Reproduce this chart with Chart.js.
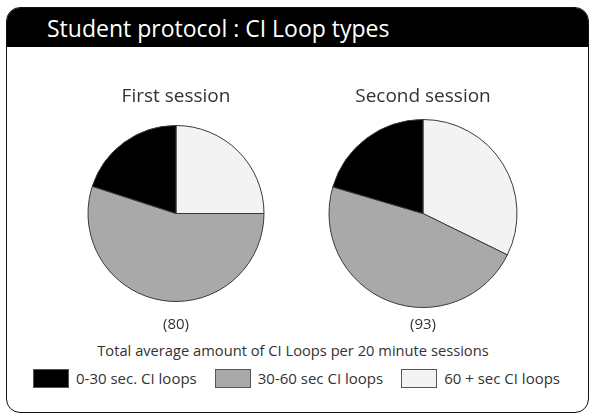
<!DOCTYPE html>
<html>
<head>
<meta charset="utf-8">
<script src="https://cdn.jsdelivr.net/npm/chart.js@4.4.1/dist/chart.umd.min.js"></script>
<style>
  html, body { margin: 0; padding: 0; background: #fff; }
  body { width: 590px; height: 416px; position: relative; overflow: hidden; font-family: "Open Sans", sans-serif; color: #333; }
  #frame { position: absolute; left: 6px; top: 7px; width: 581px; height: 404px; border: 1.5px solid #111; border-radius: 14px; overflow: hidden; }
  #header { position: absolute; left: 0; top: 0; right: 0; height: 39px; background: #000; color: #fff; font-size: 23px; line-height: 41px; padding-left: 40px; }
  .pie { position: absolute; }
  #caption { position: absolute; left: 0; width: 586px; top: 340px; text-align: center; font-size: 14.7px; }
  #legend { position: absolute; left: 33px; top: 368px; display: flex; align-items: center; font-size: 15px; }
  .item { display: flex; align-items: center; margin-right: 18px; }
  .box { width: 34px; height: 17px; border: 1px solid #555; margin-right: 7px; }
</style>
</head>
<body>
<div id="frame"><div id="header">Student protocol : CI Loop types</div></div>
<canvas id="first" class="pie" width="220" height="249" style="left:66px;top:85px"></canvas>
<canvas id="second" class="pie" width="220" height="249" style="left:313px;top:85px"></canvas>
<div id="caption">Total average amount of CI Loops per 20 minute sessions</div>
<div id="legend"></div>
<script>
// legend order
const categories = ["0-30 sec. CI loops", "30-60 sec CI loops", "60 + sec CI loops"];
const colors = ["#000000", "#a9a9a9", "#f3f3f3"];

const sessions = ["First session", "Second session"];
const totals = ["(80)", "(93)"];
// loops per category, same order as categories
const firstValues = [16, 44, 20];
const secondValues = [19, 44, 30];

// slices run clockwise from 12 o'clock: 60+, 30-60, then 0-30
const drawOrder = [2, 1, 0];

function makePie(canvas, title, total, values, radius) {
  new Chart(canvas, {
    type: "pie",
    data: {
      labels: drawOrder.map(i => categories[i]),
      datasets: [{
        data: drawOrder.map(i => values[i]),
        backgroundColor: drawOrder.map(i => colors[i]),
        borderColor: "#3a3a3a",
        borderWidth: 1,
        radius: radius
      }]
    },
    options: {
      responsive: false,
      animation: false,
      events: [],
      plugins: {
        legend: { display: false },
        tooltip: { enabled: false },
        title: {
          display: true,
          text: title,
          color: "#333",
          font: { family: "Open Sans", size: 19, weight: "normal" },
          padding: { top: 0, bottom: 6 }
        },
        subtitle: {
          display: true,
          position: "bottom",
          text: total,
          color: "#333",
          font: { family: "Open Sans", size: 15 },
          padding: { top: 2.8, bottom: 0 }
        }
      }
    }
  });
}

makePie(document.getElementById("first"), sessions[0], totals[0], firstValues, 88);
makePie(document.getElementById("second"), sessions[1], totals[1], secondValues, 94);

const legend = document.getElementById("legend");
categories.forEach((c, i) => {
  const item = document.createElement("div");
  item.className = "item";
  const box = document.createElement("span");
  box.className = "box";
  box.style.background = colors[i];
  const label = document.createElement("span");
  label.textContent = c;
  item.appendChild(box);
  item.appendChild(label);
  legend.appendChild(item);
});
</script>
</body>
</html>
